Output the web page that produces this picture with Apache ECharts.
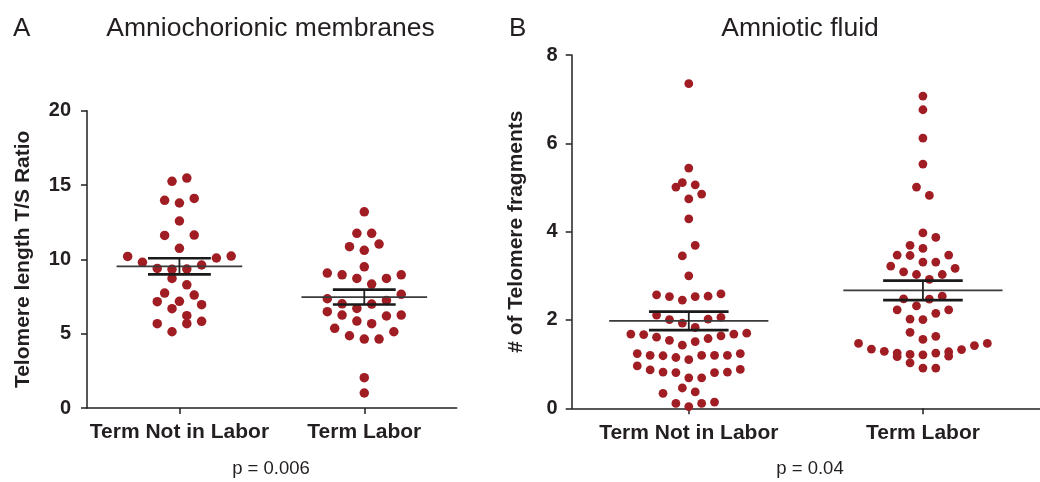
<!DOCTYPE html>
<html><head><meta charset="utf-8">
<script src="https://cdn.jsdelivr.net/npm/echarts@6/dist/echarts.min.js"></script>
<style>html,body{margin:0;padding:0;background:#fff}#c{width:1040px;height:482px}</style>
</head><body><div id="c"></div>
<script>
// ---------- data ----------
const categories = ['Term Not in Labor', 'Term Labor'];
const panelLetters = ['A', 'B'];
const panelTitles = ['Amniochorionic membranes', 'Amniotic fluid'];
const yNames = ['Telomere length T/S Ratio', '# of Telomere fragments'];
const pValues = ['p = 0.006', 'p = 0.04'];
const yTicksA = [0, 5, 10, 15, 20];
const yTicksB = [0, 2, 4, 6, 8];

// Panel A: T/S ratio values and their swarm lane (column)
const membranesNotInLabor = [15.25, 15.47, 13.97, 13.79, 14.10, 12.58, 11.61, 11.63, 10.74, 10.20, 9.80, 10.09, 10.22, 9.39, 9.33, 9.35, 9.62, 8.72, 8.29, 7.73, 7.60, 7.15, 7.18, 6.68, 6.95, 6.21, 5.67, 5.67, 5.83, 5.13];
const membranesNotInLaborLane = [-1, 1, -2, 0, 2, 0, -2, 2, 0, -7, -5, 5, 7, -3, -1, 1, 3, -1, 1, -2, 2, -3, 0, -1, 3, 1, 1, -3, 3, -1];
const membranesLabor = [13.20, 11.75, 11.75, 10.85, 11.03, 10.61, 9.50, 9.08, 8.96, 8.72, 8.34, 8.72, 8.96, 7.35, 7.01, 7.24, 7.65, 6.70, 6.99, 6.48, 6.25, 6.19, 6.25, 5.85, 5.67, 5.36, 4.86, 4.64, 4.64, 5.13, 2.04, 1.01];
const membranesLaborLane = [0, -1, 1, -2, 2, 0, 0, -5, -3, -1, 1, 3, 5, -5, -3, 3, 5, -1, 1, -5, -3, 3, 5, -1, 1, -4, -2, 0, 2, 4, 0, 0];
const membranesMean = [9.53, 7.46];
const membranesSem = [0.54, 0.50];

// Panel B: number of telomere fragments
const fluidNotInLabor = [7.35, 5.44, 5.11, 5.01, 5.06, 4.85, 4.74, 4.29, 3.69, 3.45, 3.00, 2.57, 2.53, 2.45, 2.53, 2.54, 2.59, 2.11, 2.01, 1.93, 1.83, 2.02, 2.06, 1.68, 1.67, 1.61, 1.54, 1.43, 1.51, 1.58, 1.64, 1.68, 1.70, 1.24, 1.20, 1.19, 1.15, 1.10, 1.20, 1.20, 1.20, 1.24, 0.96, 0.87, 0.82, 0.81, 0.69, 0.69, 0.81, 0.82, 0.88, 0.34, 0.46, 0.37, 0.11, 0.04, 0.11, 0.14];
const fluidNotInLaborLane = [0, 0, -1, -2, 1, 2, 0, 0, 1, -1, 0, -5, -3, -1, 1, 3, 5, -5, -3, -1, 1, 3, 5, -9, -7, -5, -3, -1, 1, 3, 5, 7, 9, -8, -6, -4, -2, 0, 2, 4, 6, 8, -8, -6, -4, -2, 0, 2, 4, 6, 8, -4, -1, 1, -2, 0, 2, 4];
const fluidLabor = [7.07, 6.76, 6.12, 5.53, 5.01, 4.82, 3.97, 3.87, 3.69, 3.62, 3.47, 3.46, 3.47, 3.31, 3.31, 3.22, 3.17, 3.09, 3.03, 3.03, 2.92, 2.48, 2.47, 2.54, 2.32, 2.23, 2.23, 2.15, 2.02, 2.01, 1.72, 1.56, 1.63, 1.47, 1.34, 1.29, 1.25, 1.17, 1.22, 1.03, 1.21, 1.25, 1.28, 1.18, 1.33, 1.42, 1.47, 0.91, 0.91];
const fluidLaborLane = [0, 0, 0, 0, -1, 1, 0, 2, -2, 0, -4, -2, 4, 0, 2, -5, 5, -3, -1, 3, 1, -3, 1, 3, -1, -4, 4, 2, -2, 0, -2, 0, 2, -10, -8, -6, -4, -4, -2, -2, 0, 2, 4, 4, 6, 8, 10, 0, 2];
const fluidMean = [1.98, 2.67];
const fluidSem = [0.21, 0.22];

// ---------- styles / layout ----------
const DOT = '#a11d24';
const INK = '#231f20';
const LANE_A = 0.04, LANE_B = 0.0275;

function swarm(values, lanes, cat, laneW) {
  return values.map((v, i) => [cat + lanes[i] * laneW, v]);
}
function meanRender(params, api) {
  const x = api.value(0), m = api.value(1), s = api.value(2);
  const a = api.coord([x - 0.34, m]), b = api.coord([x + 0.34, m]);
  const t = api.coord([x, m + s]), u = api.coord([x, m - s]);
  const tl = api.coord([x - 0.17, m + s]), tr = api.coord([x + 0.17, m + s]);
  const bl = api.coord([x - 0.17, m - s]), br = api.coord([x + 0.17, m - s]);
  const ln = (p, q, w, c) => ({type: 'line', shape: {x1: p[0], y1: p[1], x2: q[0], y2: q[1]}, style: {stroke: c, lineWidth: w}});
  return {type: 'group', children: [
    ln(a, b, 1.8, '#3a3a3a'), ln(t, u, 1.8, '#222'), ln(tl, tr, 2.6, '#1a1a1a'), ln(bl, br, 2.6, '#1a1a1a')
  ]};
}

const grids = [
  {left: 87, top: 110.7, width: 369.7, height: 297.3},
  {left: 571.7, top: 55, width: 476.8, height: 353.3}
];
const FONT = 'Liberation Sans, Arial';
const catAxis = (g) => ({
  type: 'category', gridIndex: g, data: categories,
  axisLine: {show: true, lineStyle: {color: INK, width: 1.5}},
  axisTick: {show: true, alignWithLabel: true, interval: 0, length: 6, lineStyle: {color: INK, width: 1.5}},
  axisLabel: {interval: 0, hideOverlap: false, color: INK, fontSize: 21, fontWeight: 'bold', fontFamily: FONT, margin: 14},
  splitLine: {show: false}
});
const valX = (g) => ({type: 'value', gridIndex: g, min: 0.5, max: 2.5, show: false});
const valY = (g, max, interval, name, gap, margin) => ({
  type: 'value', gridIndex: g, min: 0, max: max, interval: interval,
  name: name, nameLocation: 'middle', nameGap: gap,
  nameTextStyle: {color: INK, fontSize: 21, fontWeight: 'bold', fontFamily: FONT},
  axisLine: {show: true, lineStyle: {color: INK, width: 1.5}},
  axisTick: {show: true, length: 6, lineStyle: {color: INK, width: 1.5}},
  axisLabel: {color: INK, fontSize: 20, fontWeight: 'bold', fontFamily: FONT, margin: margin},
  splitLine: {show: false}
});

const textStyle = (size, weight) => ({fill: INK, fontSize: size, fontWeight: weight || 'normal', fontFamily: FONT});
const option = {
  animation: false,
  backgroundColor: '#fff',
  grid: grids,
  xAxis: [catAxis(0), valX(0), catAxis(1), valX(1)],
  yAxis: [
    valY(0, yTicksA[yTicksA.length - 1], yTicksA[1] - yTicksA[0], yNames[0], 53, 16),
    valY(1, yTicksB[yTicksB.length - 1], yTicksB[1] - yTicksB[0], yNames[1], 45, 14)
  ],
  graphic: [
    {type: 'text', style: Object.assign({text: panelLetters[0], x: 13, y: 29, textVerticalAlign: 'middle'}, textStyle(26))},
    {type: 'text', style: Object.assign({text: panelTitles[0], x: 270.5, y: 29, textAlign: 'center', textVerticalAlign: 'middle'}, textStyle(26.5))},
    {type: 'text', style: Object.assign({text: panelLetters[1], x: 509, y: 29, textVerticalAlign: 'middle'}, textStyle(26))},
    {type: 'text', style: Object.assign({text: panelTitles[1], x: 800, y: 29, textAlign: 'center', textVerticalAlign: 'middle'}, textStyle(26.5))},
    {type: 'text', style: Object.assign({text: pValues[0], x: 271, y: 469, textAlign: 'center', textVerticalAlign: 'middle'}, textStyle(18.5))},
    {type: 'text', style: Object.assign({text: pValues[1], x: 810, y: 469, textAlign: 'center', textVerticalAlign: 'middle'}, textStyle(18.5))}
  ],
  series: [
    {type: 'scatter', xAxisIndex: 1, yAxisIndex: 0, symbolSize: 9.5, itemStyle: {color: DOT, opacity: 1}, z: 2,
      data: swarm(membranesNotInLabor, membranesNotInLaborLane, 1, LANE_A).concat(swarm(membranesLabor, membranesLaborLane, 2, LANE_A))},
    {type: 'scatter', xAxisIndex: 3, yAxisIndex: 1, symbolSize: 8.8, itemStyle: {color: DOT, opacity: 1}, z: 2,
      data: swarm(fluidNotInLabor, fluidNotInLaborLane, 1, LANE_B).concat(swarm(fluidLabor, fluidLaborLane, 2, LANE_B))},
    {type: 'custom', xAxisIndex: 1, yAxisIndex: 0, z: 3, renderItem: meanRender,
      data: membranesMean.map((m, i) => [i + 1, m, membranesSem[i]])},
    {type: 'custom', xAxisIndex: 3, yAxisIndex: 1, z: 3, renderItem: meanRender,
      data: fluidMean.map((m, i) => [i + 1, m, fluidSem[i]])}
  ]
};
const chart = echarts.init(document.getElementById('c'), null, {renderer: 'canvas'});
chart.setOption(option);
</script>
</body></html>
